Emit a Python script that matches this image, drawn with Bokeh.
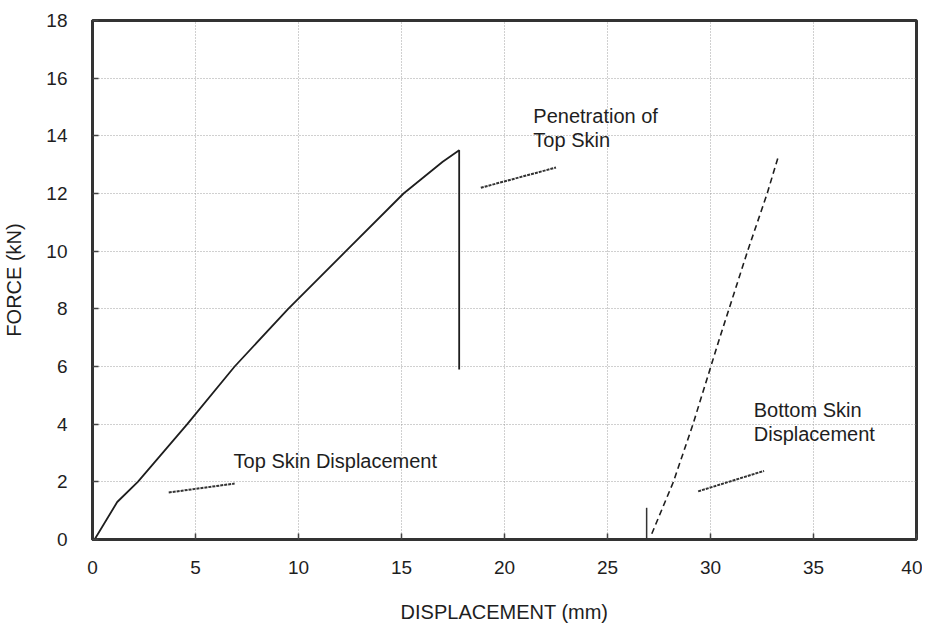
from bokeh.plotting import figure
from bokeh.models import FixedTicker, Range1d
from bokeh.core.properties import value
from bokeh.embed import file_html
from bokeh.resources import INLINE

# ---- data ----
top_x = [0.1, 1.2, 2.2, 4.6, 6.9, 9.5, 12.3, 15.1, 17.0, 17.8, 17.8]
top_y = [0.0, 1.3, 2.0, 4.0, 6.0, 8.0, 10.0, 12.0, 13.1, 13.5, 5.9]

bot_x = [27.15, 28.2, 29.15, 30.45, 31.8, 32.75, 33.3]
bot_y = [0.2, 2.0, 4.0, 7.0, 10.0, 12.0, 13.3]

# pointer lines (start, end)
ptr_pen_x = [18.85, 22.5]
ptr_pen_y = [12.2, 12.9]
ptr_top_x = [3.7, 6.9]
ptr_top_y = [1.63, 1.94]
ptr_bot_x = [29.4, 32.6]
ptr_bot_y = [1.67, 2.38]

marker_x = [26.9, 26.9]
marker_y = [0.0, 1.1]

x_ticks = [0, 5, 10, 15, 20, 25, 30, 35, 40]
y_ticks = [0, 2, 4, 6, 8, 10, 12, 14, 16, 18]

labels_text = ["Penetration of", "Top Skin", "Top Skin Displacement", "Bottom Skin", "Displacement"]
labels_x = [21.4, 21.4, 6.85, 32.1, 32.1]
labels_y = [14.69, 13.84, 2.72, 4.49, 3.67]

FONT = "Liberation Sans"
INK = "#1e1e1e"

p = figure(width=922, height=625, output_backend="svg", toolbar_location=None,
           x_range=Range1d(0, 40), y_range=Range1d(0, 18),
           min_border_left=90, min_border_right=6, min_border_top=20, min_border_bottom=80,
           background_fill_color="white", border_fill_color="white")

p.outline_line_color = "#333333"
p.outline_line_width = 3

for ax in (p.xaxis, p.yaxis):
    ax.axis_line_color = "#333333"
    ax.axis_line_width = 3
    ax.major_tick_in = 6
    ax.major_tick_out = 0
    ax.minor_tick_line_color = None
    ax.major_tick_line_color = "#444444"
    ax.major_tick_line_width = 1.5
    ax.major_label_text_font = FONT
    ax.major_label_text_font_size = "19px"
    ax.major_label_text_color = INK
    ax.axis_label_text_font = FONT
    ax.axis_label_text_font_size = "20px"
    ax.axis_label_text_font_style = "normal"
    ax.axis_label_text_color = INK

p.xaxis.ticker = FixedTicker(ticks=x_ticks)
p.yaxis.ticker = FixedTicker(ticks=y_ticks)
p.xaxis.major_label_standoff = 21
p.yaxis.major_label_standoff = 25
p.xaxis.axis_label = "DISPLACEMENT (mm)"
p.yaxis.axis_label = "FORCE (kN)"
p.xaxis.axis_label_standoff = 24
p.yaxis.axis_label_standoff = 18

for g in (p.xgrid, p.ygrid):
    g.grid_line_color = "#8a8a8a"
    g.grid_line_dash = "1 2"
    g.grid_line_width = 1
    g.grid_line_alpha = 0.8

p.line(top_x, top_y, line_color=INK, line_width=1.8)
p.line(bot_x, bot_y, line_color=INK, line_width=1.6, line_dash="6 4")

for xs, ys in ((ptr_pen_x, ptr_pen_y), (ptr_top_x, ptr_top_y), (ptr_bot_x, ptr_bot_y)):
    p.line(xs, ys, line_color="#333333", line_width=2, line_dash="3 1")

p.line(marker_x, marker_y, line_color="#333333", line_width=1.5)

p.text(x=labels_x, y=labels_y, text=labels_text, text_font=value(FONT),
       text_font_size="20px", text_color=INK, text_baseline="alphabetic", text_align="left")

open("out.html", "w").write(file_html(p, INLINE))
